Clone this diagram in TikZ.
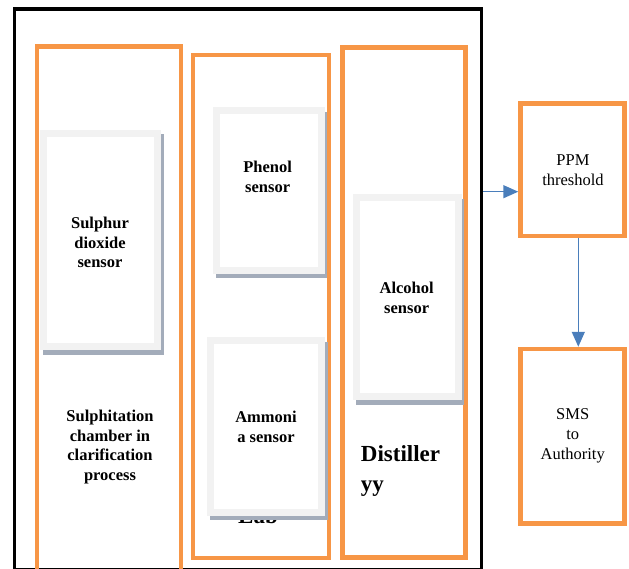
\documentclass[tikz,border=0pt]{standalone}
\usepackage{fontspec}
\setmainfont{Liberation Serif}
\usepackage{tikz}
\usetikzlibrary{arrows.meta}
\usetikzlibrary{shadows}
\definecolor{chamberorange}{RGB}{247,150,70}
\definecolor{sensorgray}{RGB}{242,242,242}
\definecolor{shadowgray}{RGB}{163,172,186}
\definecolor{flowblue}{RGB}{74,126,187}

\begin{document}
\begin{tikzpicture}
    [x=1pt,y=-1pt,
    chamber/.style={rectangle,draw=chamberorange,line width=4.5pt,inner sep=0pt},
    sensorbox/.style={rectangle,fill=sensorgray,inner sep=0pt,drop shadow={opacity=1,fill=shadowgray,shadow xshift=2.5pt,shadow yshift=-4.5pt},
        path picture={\fill[white] ([xshift=7pt,yshift=-7pt]path picture bounding box.north west) rectangle ([xshift=-7pt,yshift=7pt]path picture bounding box.south east);}},
    boldtext/.style={font=\bfseries\fontsize{16.5}{19.5}\selectfont,anchor=base,inner sep=0pt},
    plaintext/.style={font=\fontsize{16.5}{20}\selectfont,anchor=base,inner sep=0pt},
    bigtext/.style={font=\bfseries\fontsize{23}{30}\selectfont,inner sep=0pt},
    flow/.style={-{Triangle[length=15pt,width=13pt]},draw=flowblue,line width=1.5pt}]
    \clip (0,0) rectangle (629,569);
    \node [rectangle,draw=black,line width=3.5pt,minimum width=467.2pt,minimum height=561.2pt,inner sep=0pt] (Plant) at (247.9,289.4) {};
    \node [chamber,minimum width=144pt,minimum height=553.5pt] (Sulphitation) at (109,323.25) {};
    \node [chamber,minimum width=136pt,minimum height=503pt] (Lab) at (261,306.5) {};
    \node [chamber,minimum width=123pt,minimum height=510pt] (Distillery) at (404,302.5) {};
    \node [bigtext,anchor=base] (LabLabel) at (258,523) {Lab};
    \node [sensorbox,minimum width=121pt,minimum height=220pt] (Sulphur) at (100.5,240) {};
    \node [sensorbox,minimum width=111.4pt,minimum height=166.7pt] (Phenol) at (269,190.65) {};
    \node [sensorbox,minimum width=117.7pt,minimum height=178.2pt] (Ammonia) at (266.15,426.4) {};
    \node [sensorbox,minimum width=108.4pt,minimum height=205.5pt] (Alcohol) at (407.5,297.25) {};
    \node [boldtext] (SulphurLabel) at (100,229) {\begin{tabular}[t]{@{}c@{}}Sulphur\\dioxide\\sensor\end{tabular}};
    \node [boldtext] (SulphitationLabel) at (110,421.7) {\begin{tabular}[t]{@{}c@{}}Sulphitation\\chamber in\\clarification\\process\end{tabular}};
    \node [boldtext] (PhenolLabel) at (267.7,172.7) {\begin{tabular}[t]{@{}c@{}}Phenol\\sensor\end{tabular}};
    \node [boldtext] (AmmoniaLabel) at (266,422.7) {\begin{tabular}[t]{@{}c@{}}Ammoni\\a sensor\end{tabular}};
    \node [boldtext] (AlcoholLabel) at (406.7,293.8) {\begin{tabular}[t]{@{}c@{}}Alcohol\\sensor\end{tabular}};
    \node [bigtext,anchor=base west] (DistilleryLabel) at (360.7,461.5) {\begin{tabular}[t]{@{}l@{}}Distiller\\yy\end{tabular}};
    \node [chamber,minimum width=104.2pt,minimum height=132.5pt] (PPM) at (572.6,169.75) {};
    \node [chamber,minimum width=104.2pt,minimum height=174.4pt] (SMS) at (572.6,436.2) {};
    \node [plaintext] (PPMLabel) at (573,166) {\begin{tabular}[t]{@{}c@{}}PPM\\threshold\end{tabular}};
    \node [plaintext] (SMSLabel) at (572.7,419.3) {\begin{tabular}[t]{@{}c@{}}SMS\\to\\Authority\end{tabular}};
    \coordinate (Tap) at (0,191.7);
    \draw [flow] (Plant.east |- Tap) -- (PPM.west |- Tap);
    \draw [flow] ([xshift=5.7pt]PPM.south) -- ([xshift=5.7pt]SMS.north);
\end{tikzpicture}
\end{document}
